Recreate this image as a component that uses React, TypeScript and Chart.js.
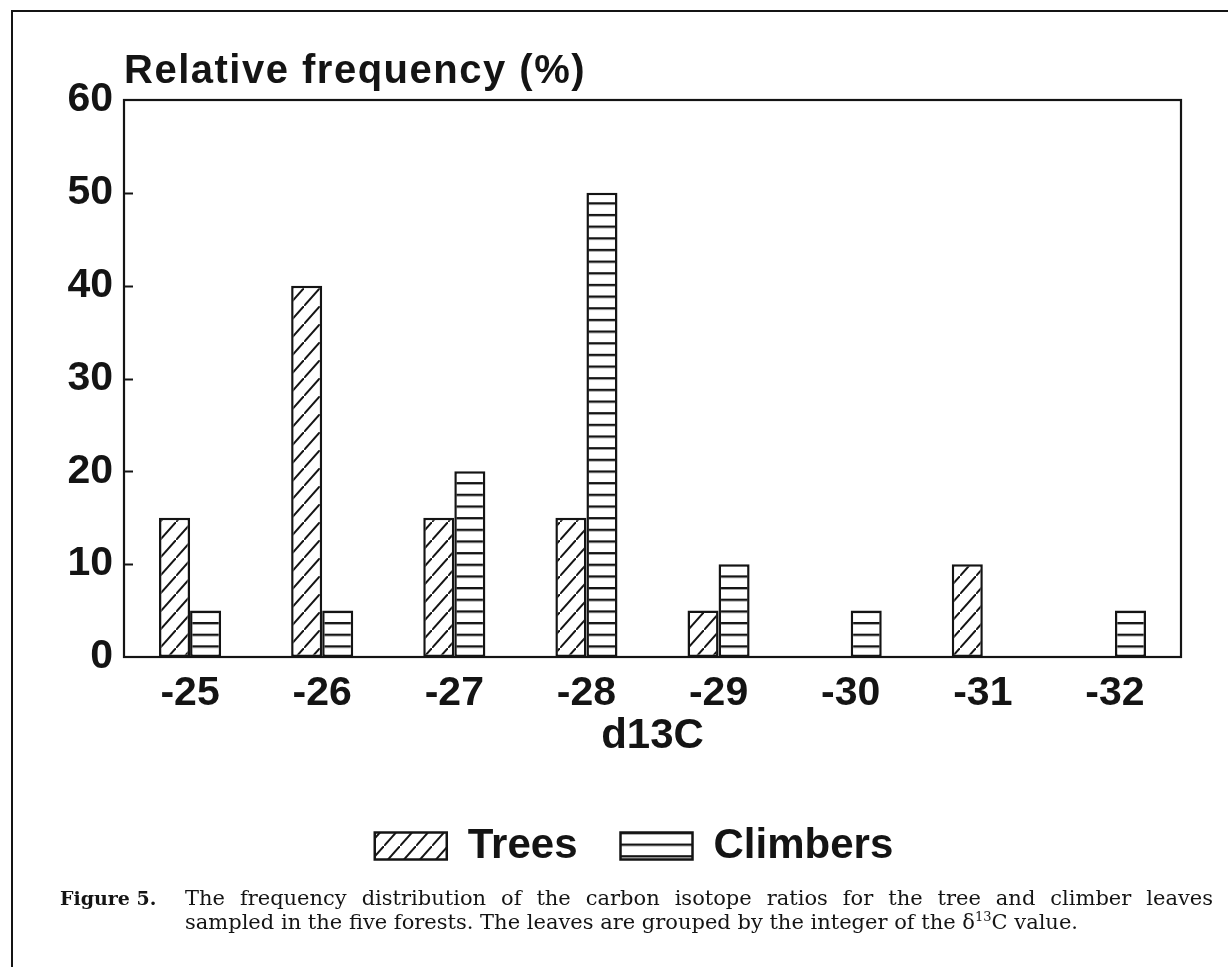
import { useEffect, useRef } from "react";
import { Chart, registerables } from "chart.js";

Chart.register(...registerables);

const categories = ["-25", "-26", "-27", "-28", "-29", "-30", "-31", "-32"];
const treesValues = [15, 40, 15, 15, 5, 0, 10, 0];
const climbersValues = [5, 5, 20, 50, 10, 5, 0, 5];
const seriesNames = ["Trees", "Climbers"];
const yMin = 0;
const yMax = 60;
const yStep = 10;
const yTitle = "Relative frequency (%)";
const xTitle = "d13C";
const captionLabel = "Figure 5.";
const captionLine1 =
  "The frequency distribution of the carbon isotope ratios for the tree and climber leaves";
const captionLine2a = "sampled in the five forests. The leaves are grouped by the integer of the \u03B4";
const captionSup = "13";
const captionLine2b = "C value.";

const INK = "#141414";
const SANS = "'Liberation Sans', Arial, Helvetica, sans-serif";

function diagonalPattern(): CanvasPattern | string {
  const w = 16;
  const h = 18;
  const c = document.createElement("canvas");
  c.width = w;
  c.height = h;
  const g = c.getContext("2d");
  if (!g) return "#fff";
  g.fillStyle = "#fff";
  g.fillRect(0, 0, w, h);
  g.strokeStyle = INK;
  g.lineWidth = 2;
  g.beginPath();
  g.moveTo(-w, 2 * h);
  g.lineTo(2 * w, -h);
  g.stroke();
  return g.createPattern(c, "repeat") || "#fff";
}

function horizontalPattern(): CanvasPattern | string {
  const w = 8;
  const h = 12;
  const c = document.createElement("canvas");
  c.width = w;
  c.height = h;
  const g = c.getContext("2d");
  if (!g) return "#fff";
  g.fillStyle = "#fff";
  g.fillRect(0, 0, w, h);
  g.fillStyle = INK;
  g.fillRect(0, 0, w, 2.4);
  const p = g.createPattern(c, "repeat");
  if (!p) return "#fff";
  try {
    p.setTransform(new DOMMatrix().translate(0, 4).scale(1, 11.66 / 12));
  } catch (e) {
    /* ignore */
  }
  return p;
}

const framePlugin = {
  id: "frameAndTicks",
  afterDraw(chart: any) {
    const { ctx, chartArea, scales } = chart;
    const { left, right, top, bottom } = chartArea;
    ctx.save();
    ctx.strokeStyle = INK;
    ctx.lineWidth = 2.2;
    ctx.strokeRect(left, top, right - left, bottom - top);
    const ys = scales.y;
    ctx.lineWidth = 2;
    for (let v = yMin + yStep; v < yMax; v += yStep) {
      const py = Math.round(ys.getPixelForValue(v)) + 0.5;
      ctx.beginPath();
      ctx.moveTo(left, py);
      ctx.lineTo(left + 9, py);
      ctx.stroke();
    }
    ctx.fillStyle = INK;
    ctx.font = `bold 40px ${SANS}`;
    try {
      (ctx as any).letterSpacing = "1.5px";
    } catch (e) {
      /* ignore */
    }
    ctx.textAlign = "left";
    ctx.textBaseline = "middle";
    ctx.fillText(yTitle, left, top - 28);
    ctx.restore();
  },
};

function ChartCanvas() {
  const ref = useRef<HTMLCanvasElement | null>(null);
  useEffect(() => {
    if (!ref.current) return;
    const chart = new Chart(ref.current, {
      type: "bar",
      data: {
        labels: categories,
        datasets: [
          {
            label: seriesNames[0],
            data: treesValues,
            backgroundColor: diagonalPattern() as any,
            borderColor: INK,
            borderWidth: 2.5,
            borderSkipped: false,
          },
          {
            label: seriesNames[1],
            data: climbersValues,
            backgroundColor: horizontalPattern() as any,
            borderColor: INK,
            borderWidth: 2.5,
            borderSkipped: false,
          },
        ],
      },
      options: {
        responsive: false,
        animation: false,
        events: [],
        layout: { padding: { left: 40, right: 0, top: 100, bottom: 90 } },
        datasets: { bar: { categoryPercentage: 0.47, barPercentage: 1.0 } },
        scales: {
          x: {
            grid: { display: false, drawTicks: false },
            border: { display: false },
            ticks: { color: INK, font: { family: SANS, size: 41, weight: "bold" }, padding: 12 },
            title: {
              display: true,
              text: xTitle,
              color: INK,
              font: { family: SANS, size: 42, weight: "bold" },
              padding: { top: 0, bottom: 20 },
            },
            afterFit: (s: any) => {
              s.height = 125;
            },
          },
          y: {
            min: yMin,
            max: yMax,
            grid: { display: false, drawTicks: false },
            border: { display: false },
            ticks: {
              stepSize: yStep,
              color: INK,
              font: { family: SANS, size: 41, weight: "bold" },
              padding: 11,
            },
            afterFit: (s: any) => {
              s.width = 84;
            },
          },
          yRightSpace: {
            position: "right",
            display: true,
            grid: { display: false, drawTicks: false },
            border: { display: false },
            ticks: { display: false },
            afterFit: (s: any) => {
              s.width = 47;
            },
          },
        },
        plugins: {
          legend: {
            position: "bottom",
            labels: {
              color: INK,
              font: { family: SANS, size: 42, weight: "bold" },
              boxWidth: 72,
              boxHeight: 27,
              padding: 43,
            },
          },
          tooltip: { enabled: false },
          title: { display: false },
        },
      },
      plugins: [framePlugin],
    });
    return () => chart.destroy();
  }, []);
  return (
    <canvas
      ref={ref}
      width={1228}
      height={967}
      style={{ position: "absolute", left: 0, top: 0, width: 1228, height: 967 }}
    />
  );
}

export default function App() {
  const serif = "'DejaVu Serif', 'Liberation Serif', 'Times New Roman', serif";
  return (
    <div style={{ position: "absolute", left: 0, top: 0, width: 1228, height: 967, background: "#fff", overflow: "hidden" }}>
      <ChartCanvas />
      <div style={{ position: "absolute", left: 11, top: 10, width: 1217, height: 2, background: INK }} />
      <div style={{ position: "absolute", left: 11, top: 10, width: 2, height: 957, background: INK }} />
      <div
        style={{
          position: "absolute",
          left: 60,
          top: 886,
          fontFamily: serif,
          fontWeight: "bold",
          fontSize: 19,
          color: INK,
          lineHeight: "24px",
        }}
      >
        {captionLabel}
      </div>
      <div
        style={{
          position: "absolute",
          left: 185,
          top: 886,
          width: 1028,
          fontFamily: serif,
          fontSize: 21,
          color: INK,
          lineHeight: "24px",
        }}
      >
        <div style={{ textAlign: "justify", textAlignLast: "justify" as any, whiteSpace: "nowrap" }}>{captionLine1}</div>
        <div style={{ textAlign: "left", whiteSpace: "nowrap" }}>
          {captionLine2a}
          <sup style={{ fontSize: 13, lineHeight: 0 }}>{captionSup}</sup>
          {captionLine2b}
        </div>
      </div>
    </div>
  );
}
